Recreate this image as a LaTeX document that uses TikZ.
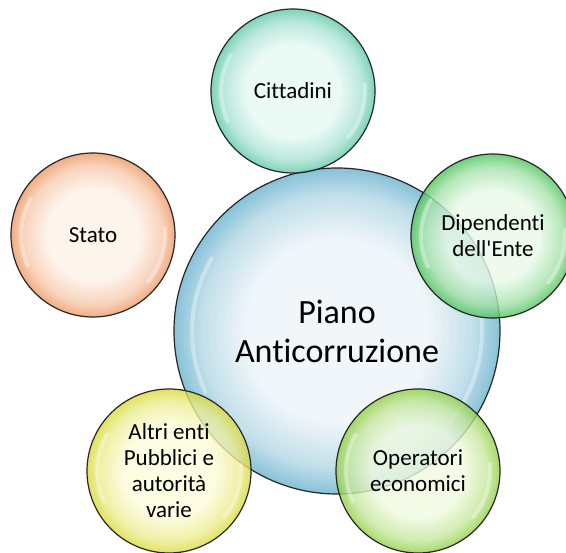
\documentclass[tikz,border=0pt]{standalone}
\usepackage{fontspec}
\setmainfont{Carlito}[Ligatures={NoCommon}]
\usepackage{tikz}
\usetikzlibrary{calc}
\colorlet{bubin}{white}
\colorlet{bubout}{gray}
\pgfdeclareradialshading[bubin,bubout]{bubble}{\pgfpoint{0bp}{0bp}}{color(0bp)=(bubin); color(14bp)=(bubin); color(21bp)=(bubin!55!bubout); color(25bp)=(bubout); color(50bp)=(bubout)}
\def\glossarc(#1)(#2:#3:#4){\draw[gloss] ($(#1)+({#4*cos(#2)},{#4*sin(#2)})$) arc (#2:#3:#4);}
\tikzset{
  bubble/.style 2 args={circle, draw=black!85, line width=1.2pt, inner sep=0pt,
    minimum size=164pt, align=center, fill opacity=0.8, text opacity=1,
    /utils/exec={\colorlet{bubin}{#1}\colorlet{bubout}{#2}}, shading=bubble,
    font=\fontsize{23}{26}\selectfont},
  gloss/.style={white, line width=4pt, opacity=0.35, line cap=round}
}
\definecolor{pianoin}{RGB}{236,244,247}
\definecolor{pianoout}{RGB}{105,178,206}
\definecolor{cittin}{RGB}{230,249,243}
\definecolor{cittout}{RGB}{95,200,168}
\definecolor{statoin}{RGB}{253,241,231}
\definecolor{statoout}{RGB}{238,152,100}
\definecolor{dipin}{RGB}{232,249,232}
\definecolor{dipout}{RGB}{78,196,90}
\definecolor{operin}{RGB}{240,250,224}
\definecolor{operout}{RGB}{145,208,72}
\definecolor{altriin}{RGB}{252,252,218}
\definecolor{altriout}{RGB}{218,218,60}
\begin{document}
\begin{tikzpicture}[x=1pt,y=1pt]
			%%%%% START %%%%%
			\useasboundingbox (0,0) rectangle (566,-553);
			
			\node[bubble={pianoin}{pianoout}, minimum size=326pt,
			  font=\fontsize{34}{39}\selectfont] (piano) at (337,-331) {Piano\\Anticorruzione};
			\glossarc(piano)(150:205:145)
			\glossarc(piano)(-40:5:145)
			
			\node[bubble={cittin}{cittout}] (citt) at (293,-91) {Cittadini};
			\glossarc(citt)(150:205:72)
			\glossarc(citt)(-40:5:72)
			
			\node[bubble={statoin}{statoout}] (stato) at (93,-235) {Stato};
			\glossarc(stato)(150:205:72)
			\glossarc(stato)(-40:5:72)
			
			\node[bubble={dipin}{dipout}] (dip) at (493,-236) {Dipendenti\\dell\textquotesingle Ente};
			\glossarc(dip)(150:205:72)
			\glossarc(dip)(-40:5:72)
			
			\node[bubble={operin}{operout}] (oper) at (418,-471) {Operatori\\economici};
			\glossarc(oper)(150:205:72)
			\glossarc(oper)(-40:5:72)
			
			\node[bubble={altriin}{altriout}] (altri) at (169,-471) {Altri enti\\Pubblici e\\autorità\\varie};
			\glossarc(altri)(150:205:72)
			\glossarc(altri)(-40:5:72)
			
			%%%%% END %%%%%
\end{tikzpicture}
\end{document}
